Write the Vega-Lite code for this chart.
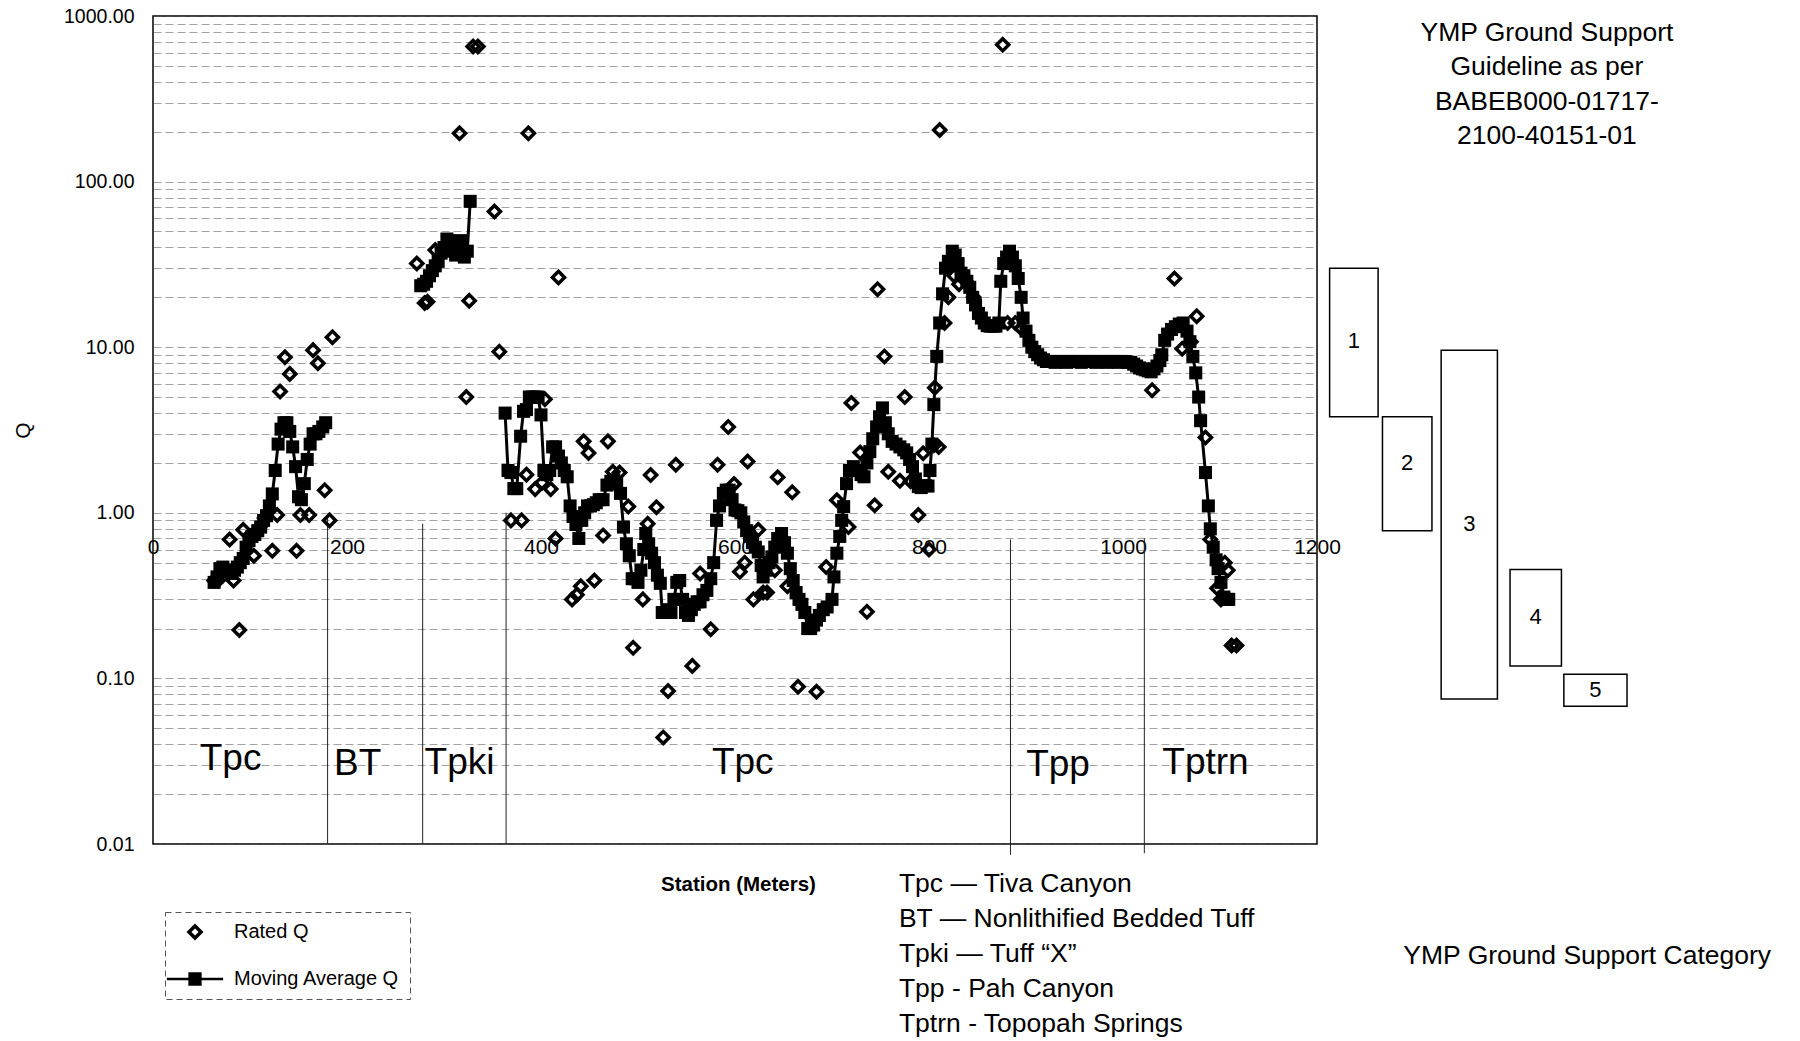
{
 "$schema": "https://vega.github.io/schema/vega-lite/v6.json",
 "width": 1164,
 "height": 828,
 "autosize": {"type": "none"},
 "padding": {"left": 153, "top": 16, "right": 483, "bottom": 197},
 "background": "white",
 "config": {
  "font": "Liberation Sans",
  "view": {"stroke": "black", "strokeWidth": 1.5},
  "legend": {"strokeDash": [6, 4], "strokeWidth": 1}
 },
 "datasets": {
  "rated": [
   {"station":63,"q":0.39,"series":"Rated Q"},{"station":67,"q":0.39,"series":"Rated Q"},{"station":79,"q":0.69,"series":"Rated Q"},{"station":83,"q":0.39,"series":"Rated Q"},{"station":89,"q":0.196,"series":"Rated Q"},{"station":93,"q":0.79,"series":"Rated Q"},{"station":104,"q":0.55,"series":"Rated Q"},{"station":110,"q":0.82,"series":"Rated Q"},{"station":115,"q":0.93,"series":"Rated Q"},{"station":123,"q":0.59,"series":"Rated Q"},{"station":128,"q":0.97,"series":"Rated Q"},{"station":131,"q":5.4,"series":"Rated Q"},{"station":136,"q":8.7,"series":"Rated Q"},{"station":141,"q":6.9,"series":"Rated Q"},{"station":148,"q":0.59,"series":"Rated Q"},{"station":152,"q":0.97,"series":"Rated Q"},{"station":161,"q":0.97,"series":"Rated Q"},{"station":165,"q":9.6,"series":"Rated Q"},{"station":170,"q":8.0,"series":"Rated Q"},{"station":177,"q":1.37,"series":"Rated Q"},{"station":182,"q":0.9,"series":"Rated Q"},{"station":185,"q":11.5,"series":"Rated Q"},
   {"station":272,"q":32,"series":"Rated Q"},{"station":280,"q":18.5,"series":"Rated Q"},{"station":283,"q":18.8,"series":"Rated Q"},{"station":291,"q":38.6,"series":"Rated Q"},{"station":316,"q":196,"series":"Rated Q"},{"station":323,"q":5.0,"series":"Rated Q"},{"station":326,"q":19.1,"series":"Rated Q"},{"station":330,"q":655,"series":"Rated Q"},{"station":335,"q":655,"series":"Rated Q"},{"station":352,"q":66,"series":"Rated Q"},{"station":357,"q":9.4,"series":"Rated Q"},{"station":387,"q":196,"series":"Rated Q"},{"station":418,"q":26.4,"series":"Rated Q"},
   {"station":369,"q":0.9,"series":"Rated Q"},{"station":380,"q":0.9,"series":"Rated Q"},{"station":385,"q":1.7,"series":"Rated Q"},{"station":394,"q":1.39,"series":"Rated Q"},{"station":401,"q":1.52,"series":"Rated Q"},{"station":404,"q":4.85,"series":"Rated Q"},{"station":410,"q":1.39,"series":"Rated Q"},{"station":415,"q":0.7,"series":"Rated Q"},{"station":432,"q":0.3,"series":"Rated Q"},{"station":437,"q":0.32,"series":"Rated Q"},{"station":441,"q":0.36,"series":"Rated Q"},{"station":444,"q":2.7,"series":"Rated Q"},{"station":449,"q":2.3,"series":"Rated Q"},{"station":455,"q":0.39,"series":"Rated Q"},{"station":464,"q":0.73,"series":"Rated Q"},{"station":469,"q":2.7,"series":"Rated Q"},{"station":474,"q":1.77,"series":"Rated Q"},{"station":481,"q":1.75,"series":"Rated Q"},{"station":490,"q":1.09,"series":"Rated Q"},{"station":495,"q":0.153,"series":"Rated Q"},{"station":505,"q":0.3,"series":"Rated Q"},{"station":510,"q":0.86,"series":"Rated Q"},{"station":513,"q":1.69,"series":"Rated Q"},{"station":519,"q":1.08,"series":"Rated Q"},{"station":526,"q":0.044,"series":"Rated Q"},{"station":531,"q":0.084,"series":"Rated Q"},{"station":539,"q":1.95,"series":"Rated Q"},{"station":556,"q":0.119,"series":"Rated Q"},{"station":564,"q":0.43,"series":"Rated Q"},{"station":575,"q":0.198,"series":"Rated Q"},{"station":582,"q":1.95,"series":"Rated Q"},{"station":593,"q":3.3,"series":"Rated Q"},{"station":599,"q":1.49,"series":"Rated Q"},{"station":605,"q":0.44,"series":"Rated Q"},{"station":610,"q":0.5,"series":"Rated Q"},{"station":613,"q":2.04,"series":"Rated Q"},{"station":619,"q":0.3,"series":"Rated Q"},{"station":624,"q":0.79,"series":"Rated Q"},{"station":629,"q":0.33,"series":"Rated Q"},{"station":633,"q":0.33,"series":"Rated Q"},{"station":641,"q":0.45,"series":"Rated Q"},{"station":644,"q":1.64,"series":"Rated Q"},{"station":654,"q":0.36,"series":"Rated Q"},{"station":659,"q":1.33,"series":"Rated Q"},{"station":665,"q":0.089,"series":"Rated Q"},{"station":684,"q":0.083,"series":"Rated Q"},{"station":694,"q":0.47,"series":"Rated Q"},{"station":705,"q":1.19,"series":"Rated Q"},{"station":717,"q":0.82,"series":"Rated Q"},{"station":720,"q":4.6,"series":"Rated Q"},{"station":729,"q":2.31,"series":"Rated Q"},{"station":736,"q":0.253,"series":"Rated Q"},{"station":744,"q":1.11,"series":"Rated Q"},{"station":747,"q":22.4,"series":"Rated Q"},{"station":754,"q":8.8,"series":"Rated Q"},{"station":758,"q":1.77,"series":"Rated Q"},{"station":770,"q":1.56,"series":"Rated Q"},{"station":775,"q":5.0,"series":"Rated Q"},{"station":781,"q":1.55,"series":"Rated Q"},{"station":789,"q":0.97,"series":"Rated Q"},{"station":794,"q":2.29,"series":"Rated Q"},{"station":800,"q":0.6,"series":"Rated Q"},{"station":805,"q":2.56,"series":"Rated Q"},
   {"station":806,"q":5.7,"series":"Rated Q"},{"station":810,"q":2.5,"series":"Rated Q"},{"station":811,"q":205,"series":"Rated Q"},{"station":816,"q":14,"series":"Rated Q"},{"station":820,"q":20,"series":"Rated Q"},{"station":826,"q":27,"series":"Rated Q"},{"station":831,"q":24,"series":"Rated Q"},{"station":838,"q":25,"series":"Rated Q"},{"station":846,"q":20,"series":"Rated Q"},{"station":876,"q":670,"series":"Rated Q"},{"station":881,"q":14,"series":"Rated Q"},{"station":889,"q":14,"series":"Rated Q"},{"station":895,"q":13,"series":"Rated Q"},
   {"station":1030,"q":5.5,"series":"Rated Q"},{"station":1053,"q":26,"series":"Rated Q"},{"station":1061,"q":9.8,"series":"Rated Q"},{"station":1070,"q":10.8,"series":"Rated Q"},{"station":1076,"q":15.4,"series":"Rated Q"},{"station":1085,"q":2.85,"series":"Rated Q"},{"station":1090,"q":0.69,"series":"Rated Q"},{"station":1097,"q":0.35,"series":"Rated Q"},{"station":1101,"q":0.3,"series":"Rated Q"},{"station":1105,"q":0.5,"series":"Rated Q"},{"station":1108,"q":0.45,"series":"Rated Q"},{"station":1112,"q":0.158,"series":"Rated Q"},{"station":1117,"q":0.158,"series":"Rated Q"}
  ],
  "ma": [
   {"seg":1,"station":63,"q":0.38},{"seg":1,"station":66,"q":0.41},{"seg":1,"station":69,"q":0.46},{"seg":1,"station":72,"q":0.47},{"seg":1,"station":75,"q":0.45},{"seg":1,"station":78,"q":0.44},{"seg":1,"station":81,"q":0.43},{"seg":1,"station":84,"q":0.45},{"seg":1,"station":87,"q":0.47},{"seg":1,"station":90,"q":0.5},{"seg":1,"station":93,"q":0.53},{"seg":1,"station":96,"q":0.62},{"seg":1,"station":99,"q":0.68},{"seg":1,"station":102,"q":0.72},{"seg":1,"station":105,"q":0.74},{"seg":1,"station":108,"q":0.78},{"seg":1,"station":111,"q":0.82},{"seg":1,"station":114,"q":0.9},{"seg":1,"station":117,"q":0.96},{"seg":1,"station":120,"q":1.1},{"seg":1,"station":123,"q":1.3},{"seg":1,"station":126,"q":1.8},{"seg":1,"station":129,"q":2.6},{"seg":1,"station":132,"q":3.2},{"seg":1,"station":135,"q":3.5},{"seg":1,"station":138,"q":3.5},{"seg":1,"station":141,"q":3.1},{"seg":1,"station":144,"q":2.5},{"seg":1,"station":147,"q":1.9},{"seg":1,"station":150,"q":1.25},{"seg":1,"station":153,"q":1.2},{"seg":1,"station":156,"q":1.5},{"seg":1,"station":159,"q":2.1},{"seg":1,"station":162,"q":2.6},{"seg":1,"station":165,"q":3.0},{"seg":1,"station":168,"q":3.0},{"seg":1,"station":171,"q":3.1},{"seg":1,"station":175,"q":3.3},{"seg":1,"station":178,"q":3.5},
   {"seg":2,"station":276,"q":23.5},{"seg":2,"station":279,"q":24},{"seg":2,"station":282,"q":25},{"seg":2,"station":285,"q":27},{"seg":2,"station":288,"q":29},{"seg":2,"station":291,"q":31},{"seg":2,"station":294,"q":33},{"seg":2,"station":297,"q":37},{"seg":2,"station":300,"q":40},{"seg":2,"station":303,"q":45},{"seg":2,"station":306,"q":44},{"seg":2,"station":309,"q":38},{"seg":2,"station":312,"q":36},{"seg":2,"station":315,"q":40},{"seg":2,"station":318,"q":44},{"seg":2,"station":321,"q":35},{"seg":2,"station":324,"q":38},{"seg":2,"station":327,"q":76},
   {"seg":3,"station":363,"q":4.0},{"seg":3,"station":366,"q":1.8},{"seg":3,"station":369,"q":1.75},{"seg":3,"station":372,"q":1.4},{"seg":3,"station":375,"q":1.4},{"seg":3,"station":379,"q":2.9},{"seg":3,"station":382,"q":4.1},{"seg":3,"station":385,"q":4.2},{"seg":3,"station":388,"q":5.0},{"seg":3,"station":391,"q":5.0},{"seg":3,"station":394,"q":5.0},{"seg":3,"station":397,"q":5.0},{"seg":3,"station":400,"q":3.9},{"seg":3,"station":403,"q":1.8},{"seg":3,"station":406,"q":1.7},{"seg":3,"station":409,"q":1.8},{"seg":3,"station":412,"q":2.5},{"seg":3,"station":415,"q":2.5},{"seg":3,"station":418,"q":2.2},{"seg":3,"station":421,"q":2.0},{"seg":3,"station":424,"q":1.8},{"seg":3,"station":427,"q":1.65},{"seg":3,"station":430,"q":1.1},{"seg":3,"station":433,"q":0.95},{"seg":3,"station":436,"q":0.85},{"seg":3,"station":439,"q":0.7},{"seg":3,"station":442,"q":0.9},{"seg":3,"station":445,"q":1.0},{"seg":3,"station":448,"q":1.1},{"seg":3,"station":451,"q":1.1},{"seg":3,"station":454,"q":1.12},{"seg":3,"station":457,"q":1.15},{"seg":3,"station":460,"q":1.2},{"seg":3,"station":464,"q":1.2},{"seg":3,"station":468,"q":1.47},{"seg":3,"station":472,"q":1.55},{"seg":3,"station":475,"q":1.58},{"seg":3,"station":478,"q":1.5},{"seg":3,"station":482,"q":1.31},{"seg":3,"station":485,"q":0.82},{"seg":3,"station":488,"q":0.65},{"seg":3,"station":491,"q":0.55},{"seg":3,"station":494,"q":0.4},{"seg":3,"station":497,"q":0.4},{"seg":3,"station":500,"q":0.38},{"seg":3,"station":503,"q":0.45},{"seg":3,"station":506,"q":0.6},{"seg":3,"station":508,"q":0.75},{"seg":3,"station":511,"q":0.65},{"seg":3,"station":514,"q":0.57},{"seg":3,"station":517,"q":0.5},{"seg":3,"station":520,"q":0.42},{"seg":3,"station":523,"q":0.375},{"seg":3,"station":525,"q":0.25},{"seg":3,"station":528,"q":0.25},{"seg":3,"station":531,"q":0.26},{"seg":3,"station":534,"q":0.25},{"seg":3,"station":537,"q":0.3},{"seg":3,"station":540,"q":0.38},{"seg":3,"station":543,"q":0.39},{"seg":3,"station":546,"q":0.3},{"seg":3,"station":549,"q":0.25},{"seg":3,"station":552,"q":0.24},{"seg":3,"station":555,"q":0.26},{"seg":3,"station":558,"q":0.28},{"seg":3,"station":561,"q":0.29},{"seg":3,"station":564,"q":0.29},{"seg":3,"station":567,"q":0.32},{"seg":3,"station":571,"q":0.34},{"seg":3,"station":575,"q":0.4},{"seg":3,"station":578,"q":0.5},{"seg":3,"station":581,"q":0.9},{"seg":3,"station":584,"q":1.1},{"seg":3,"station":588,"q":1.31},{"seg":3,"station":591,"q":1.37},{"seg":3,"station":594,"q":1.37},{"seg":3,"station":597,"q":1.2},{"seg":3,"station":600,"q":1.04},{"seg":3,"station":603,"q":1.03},{"seg":3,"station":606,"q":1.0},{"seg":3,"station":609,"q":0.88},{"seg":3,"station":612,"q":0.78},{"seg":3,"station":615,"q":0.72},{"seg":3,"station":618,"q":0.66},{"seg":3,"station":621,"q":0.62},{"seg":3,"station":624,"q":0.58},{"seg":3,"station":627,"q":0.48},{"seg":3,"station":629,"q":0.41},{"seg":3,"station":632,"q":0.45},{"seg":3,"station":635,"q":0.5},{"seg":3,"station":638,"q":0.54},{"seg":3,"station":641,"q":0.62},{"seg":3,"station":644,"q":0.7},{"seg":3,"station":648,"q":0.75},{"seg":3,"station":651,"q":0.66},{"seg":3,"station":654,"q":0.57},{"seg":3,"station":657,"q":0.46},{"seg":3,"station":660,"q":0.39},{"seg":3,"station":663,"q":0.33},{"seg":3,"station":666,"q":0.3},{"seg":3,"station":669,"q":0.28},{"seg":3,"station":672,"q":0.25},{"seg":3,"station":675,"q":0.2},{"seg":3,"station":678,"q":0.2},{"seg":3,"station":681,"q":0.21},{"seg":3,"station":684,"q":0.225},{"seg":3,"station":687,"q":0.24},{"seg":3,"station":691,"q":0.26},{"seg":3,"station":695,"q":0.27},{"seg":3,"station":700,"q":0.3},{"seg":3,"station":702,"q":0.41},{"seg":3,"station":705,"q":0.57},{"seg":3,"station":708,"q":0.72},{"seg":3,"station":710,"q":0.9},{"seg":3,"station":712,"q":1.09},{"seg":3,"station":715,"q":1.5},{"seg":3,"station":718,"q":1.8},{"seg":3,"station":722,"q":1.9},{"seg":3,"station":726,"q":1.8},{"seg":3,"station":730,"q":1.7},{"seg":3,"station":733,"q":1.65},{"seg":3,"station":736,"q":2.0},{"seg":3,"station":739,"q":2.34},{"seg":3,"station":742,"q":2.8},{"seg":3,"station":746,"q":3.3},{"seg":3,"station":749,"q":3.8},{"seg":3,"station":752,"q":4.3},{"seg":3,"station":755,"q":3.5},{"seg":3,"station":758,"q":3.0},{"seg":3,"station":762,"q":2.7},{"seg":3,"station":766,"q":2.6},{"seg":3,"station":770,"q":2.5},{"seg":3,"station":774,"q":2.4},{"seg":3,"station":777,"q":2.3},{"seg":3,"station":780,"q":2.1},{"seg":3,"station":783,"q":1.9},{"seg":3,"station":786,"q":1.6},{"seg":3,"station":789,"q":1.44},{"seg":3,"station":792,"q":1.42},{"seg":3,"station":796,"q":1.46},{"seg":3,"station":799,"q":1.45},{"seg":3,"station":801,"q":1.8},{"seg":3,"station":803,"q":2.6},{"seg":3,"station":805,"q":4.5},{"seg":3,"station":808,"q":8.8},{"seg":3,"station":811,"q":14},{"seg":3,"station":814,"q":21},{"seg":3,"station":817,"q":30},{"seg":3,"station":820,"q":33},{"seg":3,"station":824,"q":38},{"seg":3,"station":827,"q":36},{"seg":3,"station":830,"q":32},{"seg":3,"station":833,"q":28},{"seg":3,"station":836,"q":27},{"seg":3,"station":839,"q":25},{"seg":3,"station":842,"q":23},{"seg":3,"station":845,"q":20},{"seg":3,"station":848,"q":18},{"seg":3,"station":851,"q":16},{"seg":3,"station":854,"q":15},{"seg":3,"station":857,"q":14},{"seg":3,"station":860,"q":13.5},{"seg":3,"station":863,"q":13.4},{"seg":3,"station":866,"q":13.4},{"seg":3,"station":869,"q":13.4},{"seg":3,"station":872,"q":14},{"seg":3,"station":874,"q":25},{"seg":3,"station":877,"q":32},{"seg":3,"station":880,"q":35},{"seg":3,"station":883,"q":38},{"seg":3,"station":886,"q":35},{"seg":3,"station":889,"q":31},{"seg":3,"station":892,"q":26},{"seg":3,"station":895,"q":20},{"seg":3,"station":897,"q":15},{"seg":3,"station":900,"q":12.5},{"seg":3,"station":903,"q":11},{"seg":3,"station":906,"q":10},{"seg":3,"station":909,"q":9.4},{"seg":3,"station":912,"q":9.0},{"seg":3,"station":915,"q":8.6},{"seg":3,"station":918,"q":8.4},{"seg":3,"station":921,"q":8.2},{"seg":3,"station":924,"q":8.2},{"seg":3,"station":927,"q":8.2},{"seg":3,"station":930,"q":8.1},{"seg":3,"station":933,"q":8.2},{"seg":3,"station":936,"q":8.2},{"seg":3,"station":939,"q":8.2},{"seg":3,"station":942,"q":8.1},{"seg":3,"station":945,"q":8.2},{"seg":3,"station":948,"q":8.2},{"seg":3,"station":951,"q":8.2},{"seg":3,"station":954,"q":8.2},{"seg":3,"station":957,"q":8.1},{"seg":3,"station":960,"q":8.2},{"seg":3,"station":963,"q":8.2},{"seg":3,"station":966,"q":8.2},{"seg":3,"station":969,"q":8.2},{"seg":3,"station":972,"q":8.1},{"seg":3,"station":975,"q":8.2},{"seg":3,"station":978,"q":8.2},{"seg":3,"station":981,"q":8.2},{"seg":3,"station":984,"q":8.1},{"seg":3,"station":987,"q":8.2},{"seg":3,"station":990,"q":8.2},{"seg":3,"station":993,"q":8.2},{"seg":3,"station":996,"q":8.1},{"seg":3,"station":999,"q":8.2},{"seg":3,"station":1002,"q":8.2},{"seg":3,"station":1005,"q":8.1},{"seg":3,"station":1008,"q":8.1},{"seg":3,"station":1011,"q":7.9},{"seg":3,"station":1014,"q":7.7},{"seg":3,"station":1017,"q":7.5},{"seg":3,"station":1020,"q":7.4},{"seg":3,"station":1023,"q":7.3},{"seg":3,"station":1026,"q":7.2},{"seg":3,"station":1029,"q":7.1},{"seg":3,"station":1032,"q":7.4},{"seg":3,"station":1035,"q":7.7},{"seg":3,"station":1038,"q":8.3},{"seg":3,"station":1040,"q":9.0},{"seg":3,"station":1043,"q":11.0},{"seg":3,"station":1046,"q":12.0},{"seg":3,"station":1050,"q":12.8},{"seg":3,"station":1054,"q":13.3},{"seg":3,"station":1058,"q":13.8},{"seg":3,"station":1062,"q":14.0},{"seg":3,"station":1066,"q":12.5},{"seg":3,"station":1069,"q":10.8},{"seg":3,"station":1072,"q":8.8},{"seg":3,"station":1075,"q":7.0},{"seg":3,"station":1078,"q":5.0},{"seg":3,"station":1080,"q":3.6},{"seg":3,"station":1085,"q":1.75},{"seg":3,"station":1088,"q":1.1},{"seg":3,"station":1090,"q":0.8},{"seg":3,"station":1093,"q":0.62},{"seg":3,"station":1096,"q":0.52},{"seg":3,"station":1098,"q":0.46},{"seg":3,"station":1101,"q":0.38},{"seg":3,"station":1104,"q":0.31},{"seg":3,"station":1107,"q":0.3},{"seg":3,"station":1109,"q":0.3}
  ],
  "bounds": [
   {"station":180,"q":0.93,"q2":0.01},{"station":278,"q":0.86,"q2":0.01},{"station":364,"q":1.0,"q2":0.01},{"station":884,"q":0.69,"q2":0.0086},{"station":1022,"q":0.7,"q2":0.0088}
  ],
  "formations": [
   {"name":"Tpc","station":80,"q":0.0326},{"name":"BT","station":211,"q":0.0306},{"name":"Tpki","station":316,"q":0.031},{"name":"Tpc","station":608,"q":0.031},{"name":"Tpp","station":933,"q":0.030},{"name":"Tptrn","station":1085,"q":0.031}
  ],
  "categories": [
   {"cat":"1","station":1213,"station2":1263,"mid":1238,"qlo":3.8,"qhi":30,"qmid":10.9},
   {"cat":"2","station":1267.5,"station2":1318.5,"mid":1293,"qlo":0.78,"qhi":3.8,"qmid":2.0},
   {"cat":"3","station":1328,"station2":1386,"mid":1357,"qlo":0.075,"qhi":9.6,"qmid":0.85},
   {"cat":"4","station":1399,"station2":1452,"mid":1425.5,"qlo":0.119,"qhi":0.455,"qmid":0.235},
   {"cat":"5","station":1454.5,"station2":1519.6,"mid":1487,"qlo":0.068,"qhi":0.106,"qmid":0.085}
  ],
  "header": [{"station":1437,"q":946,"label":"YMP Ground Support\nGuideline as per\nBABEB000-01717-\n2100-40151-01"}],
  "key": [{"station":769,"q":0.00687,"label":"Tpc — Tiva Canyon\nBT — Nonlithified Bedded Tuff\nTpki — Tuff “X”\nTpp - Pah Canyon\nTptrn - Topopah Springs"}],
  "caption": [{"station":1289,"q":0.00211,"label":"YMP Ground Support  Category"}]
 },
 "layer": [
  {
   "data": {"name": "bounds"},
   "mark": {"type": "rule", "color": "#222", "strokeWidth": 1},
   "encoding": {
    "x": {"field": "station", "type": "quantitative", "title": "Station (Meters)", "scale": {"domain": [0, 1200], "nice": false, "zero": false},
     "axis": {"title": "Station (Meters)", "format": "d", "titleFontWeight": "bold", "titleFontSize": 20.5, "titleColor": "black", "titleX": 585, "titleY": 350, "titleAlign": "center", "titleBaseline": "middle", "offset": -310, "domain": false, "ticks": false, "grid": false, "values": [0, 200, 400, 600, 800, 1000, 1200], "labelFontSize": 21, "labelPadding": 2, "labelColor": "black", "labelFlush": false, "labelOverlap": false, "labelBound": false}},
    "y": {"field": "q", "type": "quantitative", "title": "Q", "scale": {"type": "log", "domain": [0.01, 1000], "nice": false},
     "axis": {"title": "Q", "titleFontSize": 21, "titleFontWeight": "normal", "titleColor": "black", "titleX": -130, "titleY": 414, "titleAlign": "center", "titleBaseline": "middle", "values": [0.01,0.02,0.03,0.04,0.05,0.06,0.07,0.08,0.09,0.1,0.2,0.3,0.4,0.5,0.6,0.7,0.8,0.9,1,2,3,4,5,6,7,8,9,10,20,30,40,50,60,70,80,90,100,200,300,400,500,600,700,800,900,1000], "labelExpr": "indexof([0.01,0.1,1,10,100,1000], datum.value) >= 0 ? format(datum.value, '.2f') : ''", "labelFontSize": 19.5, "labelPadding": 19, "labelColor": "black", "labelOverlap": false, "labelBound": false, "ticks": false, "domain": false, "grid": true, "gridColor": "#555", "gridDash": [8, 4], "gridOpacity": 0.55, "gridWidth": 1}},
    "y2": {"field": "q2"}
   }
  },
  {
   "data": {"name": "ma"},
   "mark": {"type": "line", "color": "black", "strokeWidth": 3},
   "encoding": {
    "x": {"field": "station", "type": "quantitative", "title": "Station (Meters)"},
    "y": {"field": "q", "type": "quantitative", "title": "Q"},
    "detail": {"field": "seg", "type": "nominal"}
   }
  },
  {
   "data": {"name": "ma"},
   "mark": {"type": "point", "shape": "square", "filled": true, "color": "black", "size": 170, "opacity": 1},
   "encoding": {
    "x": {"field": "station", "type": "quantitative", "title": "Station (Meters)"},
    "y": {"field": "q", "type": "quantitative", "title": "Q"}
   }
  },
  {
   "data": {"name": "rated"},
   "mark": {"type": "point", "filled": true, "color": "black", "size": 290, "opacity": 1},
   "encoding": {
    "x": {"field": "station", "type": "quantitative", "title": "Station (Meters)"},
    "y": {"field": "q", "type": "quantitative", "title": "Q"},
    "shape": {"field": "series", "type": "nominal",
     "scale": {"domain": ["Rated Q", "Moving Average Q"], "range": ["M0,-1L1,0L0,1L-1,0ZM0,-0.42L-0.42,0L0,0.42L0.42,0Z", "M-3.3,-0.14L3.3,-0.14L3.3,0.14L-3.3,0.14ZM-0.78,-0.78L0.78,-0.78L0.78,0.78L-0.78,0.78Z"]},
     "legend": {"title": null, "orient": "none", "legendX": 12, "legendY": 896, "direction": "vertical", "labelFontSize": 20, "labelColor": "black", "labelLimit": 500, "symbolSize": 290, "symbolFillColor": "black", "symbolStrokeWidth": 0, "rowPadding": 27, "labelOffset": 29, "symbolOffset": 10, "padding": 10, "strokeColor": "#555"}}
   }
  },
  {
   "data": {"name": "formations"},
   "mark": {"type": "text", "fontSize": 37, "align": "center", "baseline": "middle", "color": "black"},
   "encoding": {
    "x": {"field": "station", "type": "quantitative", "title": "Station (Meters)"},
    "y": {"field": "q", "type": "quantitative", "title": "Q"},
    "text": {"field": "name"}
   }
  },
  {
   "data": {"name": "categories"},
   "mark": {"type": "rect", "fill": "white", "stroke": "black", "strokeWidth": 1.5},
   "encoding": {
    "x": {"field": "station", "type": "quantitative", "title": "Station (Meters)"},
    "x2": {"field": "station2"},
    "y": {"field": "qlo", "type": "quantitative", "title": "Q"},
    "y2": {"field": "qhi"}
   }
  },
  {
   "data": {"name": "categories"},
   "mark": {"type": "text", "fontSize": 22, "align": "center", "baseline": "middle", "color": "black"},
   "encoding": {
    "x": {"field": "mid", "type": "quantitative", "title": "Station (Meters)"},
    "y": {"field": "qmid", "type": "quantitative", "title": "Q"},
    "text": {"field": "cat"}
   }
  },
  {
   "data": {"name": "header"},
   "mark": {"type": "text", "fontSize": 26.5, "align": "center", "baseline": "top", "lineBreak": "\n", "lineHeight": 34.5, "color": "black"},
   "encoding": {
    "x": {"field": "station", "type": "quantitative", "title": "Station (Meters)"},
    "y": {"field": "q", "type": "quantitative", "title": "Q"},
    "text": {"field": "label"}
   }
  },
  {
   "data": {"name": "key"},
   "mark": {"type": "text", "fontSize": 26.5, "align": "left", "baseline": "top", "lineBreak": "\n", "lineHeight": 35, "color": "black"},
   "encoding": {
    "x": {"field": "station", "type": "quantitative", "title": "Station (Meters)"},
    "y": {"field": "q", "type": "quantitative", "title": "Q"},
    "text": {"field": "label"}
   }
  },
  {
   "data": {"name": "caption"},
   "mark": {"type": "text", "fontSize": 26.5, "align": "left", "baseline": "middle", "color": "black"},
   "encoding": {
    "x": {"field": "station", "type": "quantitative", "title": "Station (Meters)"},
    "y": {"field": "q", "type": "quantitative", "title": "Q"},
    "text": {"field": "label"}
   }
  }
 ]
}
